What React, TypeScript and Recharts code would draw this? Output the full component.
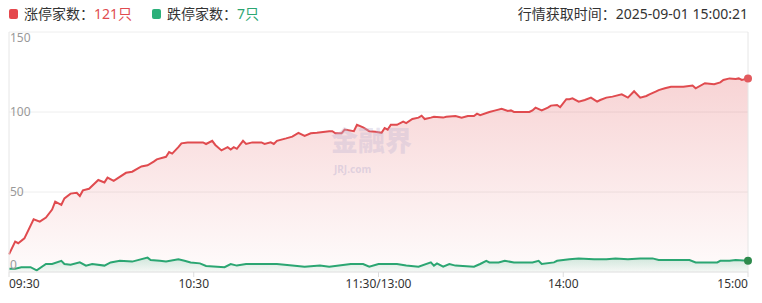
import { ComposedChart, Area, XAxis, YAxis, CartesianGrid, ReferenceLine } from "recharts";

const xTicks = [0, 60, 120, 180, 240];
const xTickLabels = ["09:30", "10:30", "11:30/13:00", "14:00", "15:00"];
const yTicks = [0, 50, 100, 150];

// minute index from 09:30 (0) to 15:00 (240), lunch break folded out
const upMinutes = [
  0, 2, 3, 5, 8, 10, 12, 14, 15, 17, 18, 20, 22, 23, 24, 26, 29, 31, 32, 34, 38, 40, 43, 45, 47, 48, 51, 52, 53, 55, 56, 58,
  60, 63, 64, 66, 67, 69, 71, 72, 73, 74, 76, 77, 79, 82, 83, 85, 86, 87, 90, 92, 94, 96, 98, 100, 104, 105, 106, 108, 109,
  112, 113, 115, 117, 119, 121, 122, 123, 124, 126, 128, 129, 131, 133, 134, 135, 137, 138, 141, 142, 145, 147, 149, 151,
  152, 153, 156, 158, 160, 162, 163, 164, 167, 169, 170, 171, 173, 175, 176, 178, 179, 181, 182, 183, 185, 187, 189, 191,
  192, 194, 196, 199, 201, 203, 205, 207, 208, 210, 211, 213, 215, 216, 219, 222, 223, 226, 229, 231, 232, 234, 236, 237,
  238, 240,
];
const upValues = [
  11, 19, 18, 21, 33, 31.5, 34, 39, 44, 42, 46, 49, 49.5, 47.5, 51, 52, 57.5, 56, 59, 57, 62, 62.7, 66, 66.7, 69, 70.4, 72,
  75, 74, 78, 80.4, 81,
  81, 81, 80, 82, 79.4, 76, 78, 76.5, 78, 77, 82, 80, 81, 81, 80, 81, 80, 82, 83.5, 84.6, 87, 85, 86.7, 87, 88, 88, 86.7,
  86.7, 89,
  88, 92, 90.4, 88, 87.7, 87, 90, 89, 92, 92, 94, 93, 95.6, 96.5, 97.7, 95.6, 96.5, 97, 96.5, 97, 97.5, 96.5, 97.5, 97.5,
  99, 98, 100, 101, 102, 100.6, 101, 100, 100, 100, 101, 102.7, 101, 102.7, 104, 104.4, 103, 108, 108, 108.5, 106.5, 107.5,
  109, 106.5,
  107.5, 109, 109.6, 111, 109, 113, 109, 110, 111, 112.7, 113.7, 114.8, 115.8, 115.8, 115.8, 116.5, 114.8, 118, 117.3,
  118.5, 120, 121, 120.6, 121,
  120, 121,
];

const downMinutes = [
  0, 2, 4, 7, 9, 12, 14, 17, 18, 20, 23, 25, 27, 31, 33, 36, 40, 45, 46, 49, 51, 55, 57, 59, 62, 64, 70, 72, 74, 77, 81, 87,
  92, 96, 101, 104, 111, 115, 117, 120, 126, 129, 133, 137, 138, 139, 141, 143, 145, 151, 153, 155, 156, 159, 161, 164,
  170, 172, 173, 177, 178, 182, 185, 190, 194, 197, 201, 205, 209, 211, 221, 223, 226, 230, 231, 234, 236, 240,
];
const downValues = [
  2, 2, 3, 3, 1, 5, 5, 7, 5, 4.5, 6, 4, 5, 4, 6, 7, 6.5, 9, 7.5, 7, 6.5, 8, 7, 6, 5.4, 3.75, 3, 5, 4, 5, 5, 5,
  4, 3.3, 4, 3.3, 5, 5, 3.3, 5, 5, 4, 3.3, 6, 4, 5.4, 3.3, 5, 4, 3.3, 5, 7, 6, 6, 7, 6,
  6, 7, 5, 6, 7, 8, 8.5, 8, 8, 8.5, 8, 8.5, 8.5, 7.5, 7.5, 6, 6, 6, 7, 7, 7.5, 7,
];

const upData = upMinutes.map((t, i) => ({ t, v: upValues[i] }));
const downData = downMinutes.map((t, i) => ({ t, v: downValues[i] }));

const FONT = '"Noto Sans", "Noto Sans CJK SC", sans-serif';
const RED = "#e04b4f";
const GREEN = "#2ba672";

function XTick(props: any) {
  const { x, y, payload, index } = props;
  const anchor = index === 0 ? "start" : index === xTicks.length - 1 ? "end" : "middle";
  return (
    <text x={x} y={y} dy="0.71em" textAnchor={anchor} fill="#333" fontSize={12} fontFamily={FONT}>
      {xTickLabels[xTicks.indexOf(payload.value)]}
    </text>
  );
}

function YTick(props: any) {
  const { y, payload } = props;
  const shift = payload.value === 150 ? 5 : payload.value === 0 ? -8 : -1;
  return (
    <text x={10} y={y + shift} dominantBaseline="central" textAnchor="start" fill="#999" fontSize={12} fontFamily={FONT}>
      {payload.value}
    </text>
  );
}

const endDot = (len: number, color: string) => (p: any) =>
  p.index === len - 1 ? (
    <circle key="end" cx={p.cx} cy={p.cy} r={4} fill={color} stroke="none" />
  ) : (
    <g key={p.index} />
  );

export default function App() {
  return (
    <div style={{ position: "absolute", left: 0, top: 0, width: 762, height: 303, background: "#fff", fontFamily: FONT }}>
      <div style={{ position: "absolute", left: 9, top: 4, fontSize: 14, lineHeight: "20px", color: "#333", display: "flex", alignItems: "center", whiteSpace: "nowrap" }}>
        <span style={{ display: "inline-block", width: 9, height: 10, borderRadius: 2, background: "#e5484d", marginRight: 6 }} />
        <span>涨停家数：</span>
        <span style={{ color: RED }}>121只</span>
        <span style={{ display: "inline-block", width: 9, height: 10, borderRadius: 2, background: "#2bb07a", marginLeft: 20, marginRight: 6 }} />
        <span>跌停家数：</span>
        <span style={{ color: GREEN }}>7只</span>
      </div>
      <div style={{ position: "absolute", right: 14, top: 4, fontSize: 14, lineHeight: "20px", color: "#333", whiteSpace: "nowrap" }}>
        行情获取时间：2025-09-01 15:00:21
      </div>

      <ComposedChart width={762} height={303} margin={{ top: 32, right: 14, bottom: 0, left: 9 }}>
        <defs>
          <linearGradient id="upFill" x1="0" y1="0" x2="0" y2="1">
            <stop offset="0%" stopColor={RED} stopOpacity={0.24} />
            <stop offset="100%" stopColor={RED} stopOpacity={0.02} />
          </linearGradient>
          <linearGradient id="downFill" x1="0" y1="0" x2="0" y2="1">
            <stop offset="0%" stopColor={GREEN} stopOpacity={0.22} />
            <stop offset="100%" stopColor={GREEN} stopOpacity={0.04} />
          </linearGradient>
        </defs>
        <CartesianGrid vertical={false} stroke="#eeeeee" />
        <XAxis
          type="number"
          dataKey="t"
          domain={[0, 240]}
          ticks={xTicks}
          height={31}
          interval={0}
          tick={<XTick />}
          tickSize={5}
          tickLine={{ stroke: "#dddddd" }}
          axisLine={{ stroke: "#e6e6e6" }}
        />
        <YAxis
          type="number"
          domain={[0, 150]}
          ticks={yTicks}
          mirror
          axisLine={false}
          tickLine={false}
          tick={<YTick />}
        />
        <ReferenceLine x={0} stroke="#e6e6e6" />
        <ReferenceLine x={240} stroke="#e6e6e6" />
        <Area
          data={upData}
          dataKey="v"
          type="linear"
          stroke={RED}
          strokeWidth={2}
          fill="url(#upFill)"
          fillOpacity={1}
          dot={endDot(upData.length, "#e25a5e")}
          activeDot={false}
          isAnimationActive={false}
        />
        <Area
          data={downData}
          dataKey="v"
          type="linear"
          stroke={GREEN}
          strokeWidth={2}
          fill="url(#downFill)"
          fillOpacity={1}
          dot={endDot(downData.length, "#2e8a4c")}
          activeDot={false}
          isAnimationActive={false}
        />
      </ComposedChart>

      <div style={{ position: "absolute", left: 331, top: 126, fontSize: 27, fontWeight: 900, color: "rgba(190,180,210,0.35)", lineHeight: "30px", pointerEvents: "none" }}>
        金融界
      </div>
      <div style={{ position: "absolute", left: 334, top: 163, fontSize: 10, fontWeight: 700, color: "rgba(190,180,210,0.45)", lineHeight: "12px", pointerEvents: "none" }}>
        JRJ.com
      </div>
    </div>
  );
}
